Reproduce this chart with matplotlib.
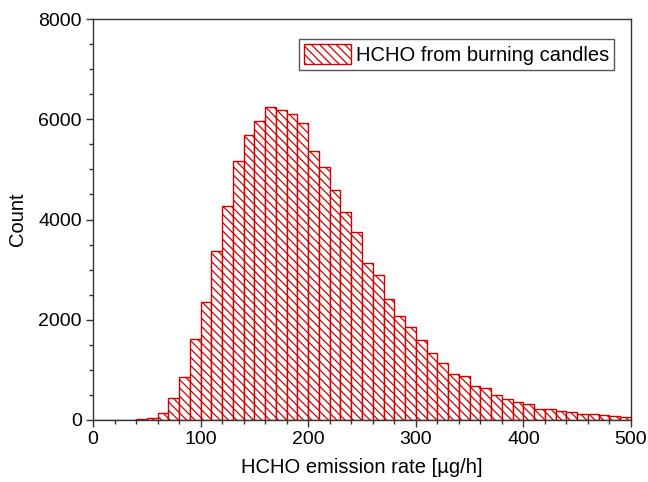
import matplotlib
matplotlib.use("Agg")
import matplotlib.pyplot as plt
import numpy as np
from matplotlib.ticker import MultipleLocator

plt.rcParams['font.family'] = ['Liberation Sans', 'DejaVu Sans']
plt.rcParams['hatch.linewidth'] = 0.9
plt.rcParams['hatch.color'] = '#e00000'

bin_edges = list(range(0, 510, 10))
counts = [0, 0, 0, 0, 20, 35, 146, 439, 865, 1609,
          2347, 3365, 4269, 5167, 5680, 5972, 6245, 6185, 6098, 5925,
          5360, 5041, 4589, 4143, 3745, 3126, 2893, 2420, 2068, 1862,
          1590, 1330, 1131, 924, 871, 672, 632, 492, 412, 353,
          313, 226, 213, 173, 153, 113, 113, 93, 87, 53]
label = "HCHO from burning candles"

fig = plt.figure(figsize=(6.48, 4.82), dpi=100)
ax = fig.add_axes([93/648, 1-420/482, (631-93)/648, (420-19)/482])

lefts = np.array(bin_edges[:-1])
widths = np.diff(bin_edges)
ax.bar(lefts, counts, width=widths, align='edge', facecolor='white',
       edgecolor='#d40000', hatch='\\\\\\\\', linewidth=1.0, label=label)

ax.set_xlim(0, 500)
ax.set_ylim(0, 8000)
ax.xaxis.set_major_locator(MultipleLocator(100))
ax.xaxis.set_minor_locator(MultipleLocator(20))
ax.yaxis.set_major_locator(MultipleLocator(2000))
ax.yaxis.set_minor_locator(MultipleLocator(500))
ax.tick_params(which='major', direction='out', length=5, width=1, labelsize=14,
               colors='#333333', labelcolor='black', pad=3)
ax.tick_params(which='minor', direction='out', length=3, width=1, colors='#333333')
for s in ax.spines.values():
    s.set_color('#333333')
    s.set_linewidth(1.0)

ax.set_xlabel("HCHO emission rate [µg/h]", fontsize=14.5, labelpad=7)
ax.set_ylabel("Count", fontsize=14.5, labelpad=8)

leg = ax.legend(loc='upper right', fontsize=14.5, frameon=True, fancybox=False,
                edgecolor='#555555', framealpha=1, borderpad=0.25,
                handlelength=2.3, handleheight=1.15, handletextpad=0.25,
                borderaxespad=0, bbox_to_anchor=((614-93)/538, (420-39)/401))
leg.get_frame().set_linewidth(1.0)

fig.savefig("out.png", dpi=100)
